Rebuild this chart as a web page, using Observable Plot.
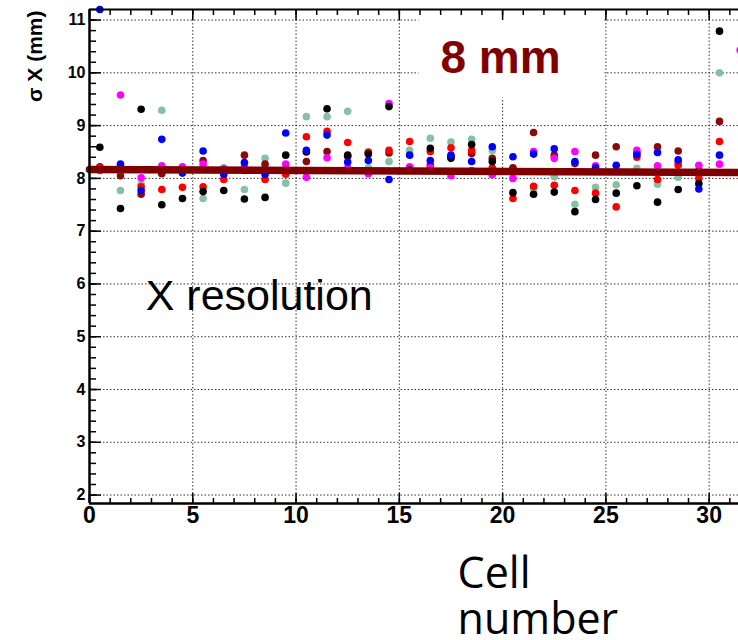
<!DOCTYPE html>
<html>
<head>
<meta charset="utf-8">
<script src="https://cdn.jsdelivr.net/npm/d3@7"></script>
<script src="https://cdn.jsdelivr.net/npm/@observablehq/plot@0.6"></script>
<style>
  body { margin: 0; background: #fff; }
  #chart svg { display: block; }
</style>
</head>
<body>
<div id="chart"></div>
<script>
// Per-cell X resolution (mm) for six channel groups; cell i is drawn at i + 0.5
const blackSeries   = [8.59, 7.43, 9.31, 7.50, 7.62, 7.75, 7.77, 7.61, 7.64, 8.44, 8.50, 9.32, 8.44, 8.46, 9.36, 8.16, 8.57, 8.38, 8.64, 8.32, 7.73, 7.70, 7.74, 7.37, 7.60, 7.72, 7.86, 7.55, 7.79, 7.90, 10.79];
const blueSeries    = [11.2, 8.27, 7.77, 8.74, 8.10, 8.52, 8.08, 8.30, 8.08, 8.86, 8.53, 8.82, 8.31, 8.34, 7.98, 8.44, 8.34, 8.44, 8.32, 8.60, 8.41, 8.46, 8.56, 8.32, 8.20, 8.25, 8.45, 8.49, 8.35, 7.80, 8.44];
const redSeries     = [8.20, 8.15, 7.84, 7.79, 7.83, 7.84, 7.98, 8.15, 7.98, 8.08, 8.79, 8.89, 8.68, 8.50, 8.53, 8.70, 8.51, 8.58, 8.53, 8.20, 7.62, 7.85, 7.87, 7.77, 7.72, 7.46, 8.40, 7.98, 8.25, 8.00, 8.70];
const magentaSeries = [8.15, 9.58, 8.01, 8.24, 8.22, 8.27, 8.18, 8.22, 8.15, 8.27, 8.02, 8.39, 8.20, 8.09, 9.42, 8.22, 8.20, 8.05, 8.15, 8.07, 8.00, 8.51, 8.38, 8.51, 8.24, 8.15, 8.53, 8.24, 8.30, 8.25, 8.27, 10.43];
const greenSeries   = [8.18, 7.77, 7.89, 9.29, 8.18, 7.62, 8.20, 7.79, 8.38, 7.91, 9.17, 9.17, 9.27, 8.20, 8.32, 8.53, 8.76, 8.69, 8.74, 8.53, 8.18, 7.80, 8.03, 7.51, 7.83, 7.88, 8.19, 7.89, 8.02, 8.12, 10.00];
const darkRedSeries = [8.22, 8.05, 7.70, 8.09, 8.16, 8.34, 8.15, 8.44, 8.27, 8.15, 8.32, 8.51, 8.42, 8.48, 8.48, 8.20, 8.25, 8.42, 8.47, 8.38, 8.20, 8.87, 8.44, 8.28, 8.44, 8.60, 8.48, 8.60, 8.52, 8.15, 9.08];

// Linear fit across all cells
const fitX = [0, 31.42];
const fitY = [8.17, 8.11];

// Axis ticks
const xMajorTicks = [0, 5, 10, 15, 20, 25, 30];
const xMinorTicks = d3.range(0, 32, 1);
const yMajorTicks = [2, 3, 4, 5, 6, 7, 8, 9, 10, 11];
const yMinorTicks = d3.range(1.8, 11.21, 0.2).map(v => +v.toFixed(1)).filter(v => v >= 1.84);

// Scale extents
const xDomain = [0, 31.42];
const yDomain = [1.84, 11.2];

// Drawing order: later series sit on top
const series = [
  {values: greenSeries,   color: "#86c1a2"},
  {values: darkRedSeries, color: "#8a0a0a"},
  {values: magentaSeries, color: "#ff00ff"},
  {values: redSeries,     color: "#ff0000"},
  {values: blackSeries,   color: "#000000"},
  {values: blueSeries,    color: "#0000ff"}
];

const toPoints = vals => vals.map((v, i) => ({cell: i + 0.5, sigma: v}));
const fitPoints = fitX.map((x, i) => ({x, y: fitY[i]}));

// White backing panel behind the "8 mm" tag
const tagBox = [{x1: 15.95, x2: 24.95, y1: 9.52, y2: 11.2}];

const noLabel = () => "";
const plain = d => String(d);

const chart = Plot.plot({
  width: 738,
  height: 640,
  marginLeft: 89,
  marginRight: 0,
  marginTop: 9,
  marginBottom: 137,
  style: {fontFamily: "'Liberation Sans', Arial, Helvetica, sans-serif", background: "#fff", color: "#000"},
  x: {domain: xDomain},
  y: {domain: yDomain},
  marks: [
    Plot.gridX(xMajorTicks.filter(d => d > 0), {stroke: "#000", strokeOpacity: 0.8, strokeDasharray: "1.5,2"}),
    Plot.gridY(yMajorTicks, {stroke: "#000", strokeOpacity: 0.8, strokeDasharray: "1.5,2"}),
    Plot.rect(tagBox, {x1: "x1", x2: "x2", y1: "y1", y2: "y2", fill: "#fff"}),

    // inward-pointing ticks
    Plot.axisY(yMajorTicks, {tickSize: 12, dx: 12, tickFormat: noLabel, label: null, strokeWidth: 1.5}),
    Plot.axisY(yMinorTicks, {tickSize: 7, dx: 7, tickFormat: noLabel, label: null, strokeWidth: 1.5}),
    Plot.axisX(xMajorTicks, {tickSize: 10, dy: -10, tickFormat: noLabel, label: null, strokeWidth: 1.5}),
    Plot.axisX(xMinorTicks, {tickSize: 5, dy: -5, tickFormat: noLabel, label: null, strokeWidth: 1.5}),
    Plot.axisX(xMajorTicks, {anchor: "top", tickSize: 10, dy: 10, tickFormat: noLabel, label: null, strokeWidth: 1.5}),
    Plot.axisX(xMinorTicks, {anchor: "top", tickSize: 5, dy: 5, tickFormat: noLabel, label: null, strokeWidth: 1.5}),

    // tick labels
    Plot.axisY(yMajorTicks, {tickSize: 0, tickPadding: 4, tickFormat: plain, fontSize: 16, fontWeight: "bold", label: null}),
    Plot.axisX(xMajorTicks, {tickSize: 0, tickPadding: 3, tickFormat: plain, fontSize: 23, fontWeight: "bold", label: null}),

    // measurements
    ...series.map(s => Plot.dot(toPoints(s.values), {x: "cell", y: "sigma", r: 3.8, fill: s.color, stroke: "none"})),

    // fit
    Plot.line(fitPoints, {x: "x", y: "y", stroke: "#7f0000", strokeWidth: 7.5}),

    // frame
    Plot.ruleX([0], {stroke: "#000", strokeWidth: 2.5}),
    Plot.ruleY([yDomain[0]], {stroke: "#000", strokeWidth: 2.5}),
    Plot.ruleY([yDomain[1]], {stroke: "#000", strokeWidth: 2}),

    // annotations
    Plot.text(["8 mm"], {x: 19.9, y: 10.0, text: d => d, fontSize: 46, fontWeight: "bold", fill: "#800000", textAnchor: "middle", lineAnchor: "bottom"}),
    Plot.text(["X resolution"], {x: 2.72, y: 5.51, text: d => d, fontSize: 43, fill: "#000", textAnchor: "start", lineAnchor: "bottom"}),
    Plot.text(["Cell"], {x: 17.82, y: 0.24, text: d => d, fontSize: 43, fontFamily: "'Open Sans', sans-serif", fill: "#000", textAnchor: "start", lineAnchor: "bottom"}),
    Plot.text(["number"], {x: 17.82, y: -0.64, text: d => d, fontSize: 43, fontFamily: "'Open Sans', sans-serif", fill: "#000", textAnchor: "start", lineAnchor: "bottom"}),
    Plot.text(["σ X (mm)"], {frameAnchor: "top-left", rotate: -90, dx: -54, dy: 1, text: d => d, fontSize: 21, fontWeight: "bold", fill: "#000", textAnchor: "end", lineAnchor: "middle"})
  ]
});

document.getElementById("chart").append(chart);
</script>
</body>
</html>
